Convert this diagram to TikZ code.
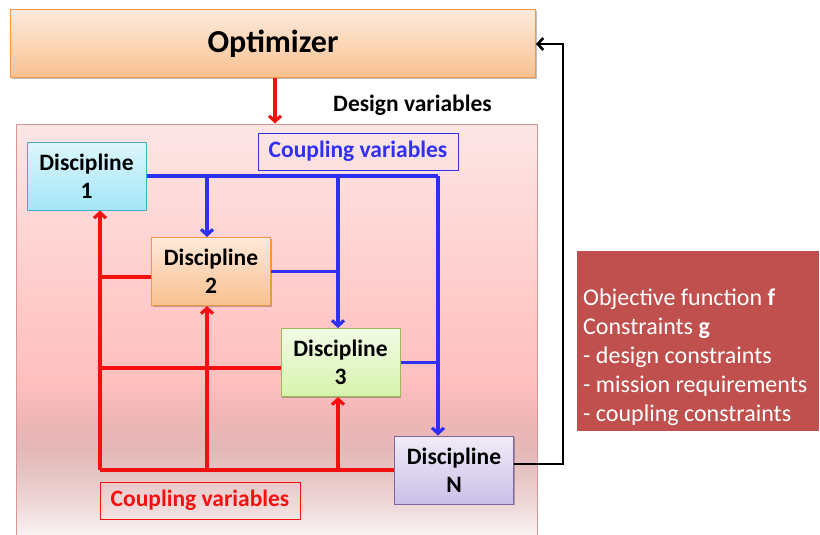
\documentclass[tikz,border=0pt]{standalone}
\usepackage{fontspec}
\setmainfont{Carlito}
\usetikzlibrary{arrows.meta,shadows,calc}

\definecolor{optTop}{HTML}{FDEBDC}
\definecolor{optBot}{HTML}{FAC08F}
\definecolor{optEdge}{HTML}{F79646}
\definecolor{aTop}{HTML}{DDF6FC}
\definecolor{aBot}{HTML}{A3E6F8}
\definecolor{aEdge}{HTML}{4BACC6}
\definecolor{bTop}{HTML}{FDE9D9}
\definecolor{bBot}{HTML}{FAC090}
\definecolor{cTop}{HTML}{F3FBE6}
\definecolor{cBot}{HTML}{D6F4AC}
\definecolor{cEdge}{HTML}{9BBB59}
\definecolor{nTop}{HTML}{F0ECF8}
\definecolor{nBot}{HTML}{CBBFE8}
\definecolor{nEdge}{HTML}{8064A2}
\definecolor{frameEdge}{HTML}{D99694}
\definecolor{pk1}{HTML}{F9F3F3}
\definecolor{pk2}{HTML}{F0DCDC}
\definecolor{pk3}{HTML}{E8C8C8}
\definecolor{pk4}{HTML}{E4B8B8}
\definecolor{pk5}{HTML}{EFB5B5}
\definecolor{pk6}{HTML}{FFC0C0}
\definecolor{pk7}{HTML}{FFCACA}
\definecolor{pk8}{HTML}{FDE6E6}
\definecolor{flowBlue}{HTML}{3030F5}
\definecolor{flowRed}{HTML}{F51010}
\definecolor{objRed}{HTML}{C0504D}

% background of the multidisciplinary analysis block;
% the filled path is mapped onto the 25bp--75bp band
\pgfdeclareverticalshading{pinkfade}{100bp}{%
  color(0bp)=(pk1); color(26.2bp)=(pk1); color(29.2bp)=(pk2);
  color(32.7bp)=(pk3); color(36.3bp)=(pk4); color(39.9bp)=(pk5);
  color(44.6bp)=(pk6); color(54bp)=(pk7); color(75bp)=(pk8);
  color(100bp)=(pk8)}

\begin{document}
\begin{tikzpicture}[x=1pt,y=-1pt,
  shadowed/.style={drop shadow={shadow xshift=1.2pt,shadow yshift=-1.2pt,opacity=0.25,fill=black}},
  box/.style={draw, line width=1pt, inner sep=0pt, align=center,
    font=\bfseries\fontsize{23.5}{28}\selectfont, shadowed},
  disc/.style={box, minimum width=119pt, minimum height=68pt},
  label/.style={draw, line width=0.9pt, inner sep=0pt, minimum width=200pt,
    minimum height=37pt, font=\bfseries\fontsize{23.5}{27}\selectfont},
  blueflow/.style={draw=flowBlue, line width=3.2pt},
  redflow/.style={draw=flowRed, line width=3.2pt},
  tip/.style={-{Straight Barb[length=5.5pt,width=12pt]}},
  feedback/.style={draw=black, line width=2.6pt}]

\useasboundingbox (0,0) rectangle (820,535);

% blocks
\node[box, minimum width=525pt, minimum height=68pt, draw=optEdge,
  top color=optTop, bottom color=optBot,
  font=\bfseries\fontsize{32}{36}\selectfont] (opt) at (273,44) {Optimizer};

\node[draw=frameEdge, line width=1pt, shading=pinkfade, inner sep=0pt,
  minimum width=521pt, minimum height=421pt] (frame) at (276.5,334.5) {};

\node[font=\bfseries\fontsize{23.5}{27}\selectfont, anchor=west, inner sep=0pt]
  (dv) at (333,105) {Design variables};

\node[disc, draw=aEdge, top color=aTop, bottom color=aBot] (d1) at (86.5,176) {Discipline\\1};
\node[disc, draw=optEdge, top color=bTop, bottom color=bBot] (d2) at (211,271.5) {Discipline\\2};
\node[disc, draw=cEdge, top color=cTop, bottom color=cBot] (d3) at (340.5,362.5) {Discipline\\3};
\node[disc, draw=nEdge, top color=nTop, bottom color=nBot] (dn) at (454,470) {Discipline\\N};

\node[label, draw=flowBlue, text=flowBlue] (cvb) at (358,151.5) {Coupling variables};
\node[label, draw=flowRed, text=flowRed] (cvr) at (200,500.5) {Coupling variables};

\node[fill=objRed, draw=white, line width=1.5pt, inner sep=0pt, shadowed,
  minimum width=244pt, minimum height=182pt] (obj) at (698,341) {};
\node[anchor=north west, align=left, text=white, inner sep=0pt,
  font=\fontsize{24}{29}\selectfont] (objtxt) at (583,288.5)
  {Objective function \textbf{f}\\ Constraints \textbf{g}\\ - design constraints\\
   - mission requirements\\ - coupling constraints};

% design variables into the analysis block
\coordinate (dvx) at (275,0);
\draw[redflow, tip] (opt.south -| dvx) -- (frame.north -| dvx);

% coupling variables, forward (blue)
\coordinate (bA) at (207,176);
\coordinate (bB) at (338,176);
\coordinate (bC) at (438,176);
\draw[blueflow] (d1.east) -- (bC);
\draw[blueflow, tip] (bA) -- (bA |- d2.north);
\draw[blueflow, tip] (bB) -- (bB |- d3.north);
\draw[blueflow, tip] (bC) -- (bC |- dn.north);
\draw[blueflow] (d2.east) -- (d2.east -| bB);
\draw[blueflow] (d3.east) -- (d3.east -| bC);

% coupling variables, feedback (red)
\coordinate (rA) at (100,470);
\coordinate (rB) at (207,470);
\coordinate (rC) at (338,470);
\coordinate (r2) at (100,277);
\coordinate (r3) at (100,368);
\draw[redflow] (dn.west) -- (rA);
\draw[redflow, tip] (rA) -- (rA |- d1.south);
\draw[redflow, tip] (rB) -- (rB |- d2.south);
\draw[redflow, tip] (rC) -- (rC |- d3.south);
\draw[redflow] (r2) -- (r2 -| d2.west);
\draw[redflow] (r3) -- (r3 -| d3.west);

% objective and constraints back to the optimizer
\coordinate (fbk) at (563,0);
\draw[feedback, tip] ($(dn.east)+(0,-6)$) -| (fbk |- opt.east) -- (opt.east);
\end{tikzpicture}
\end{document}
